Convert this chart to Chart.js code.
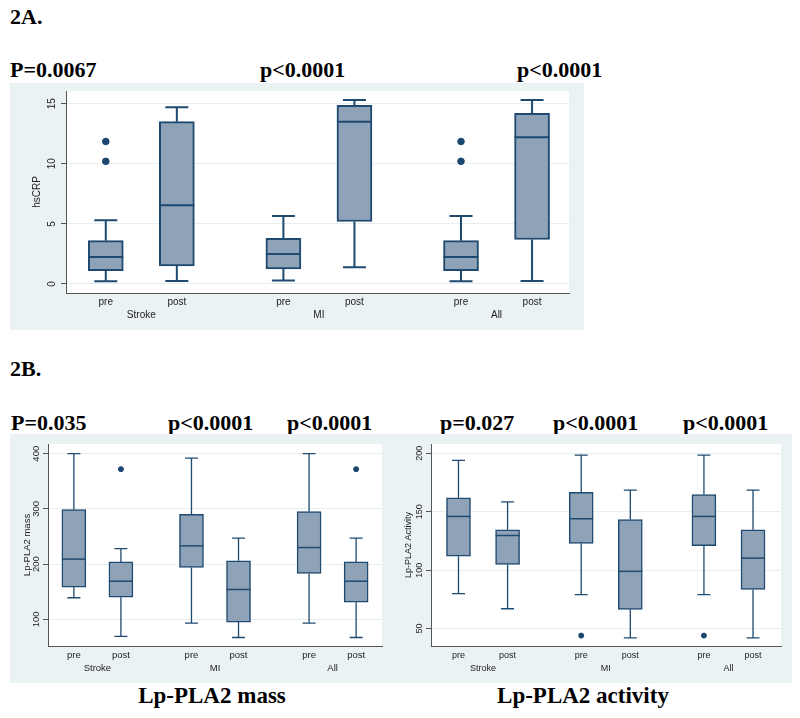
<!DOCTYPE html>
<html>
<head>
<meta charset="utf-8">
<script src="https://cdn.jsdelivr.net/npm/chart.js@4.4.1/dist/chart.umd.min.js"></script>
<style>
  body { margin: 0; background: #fff; width: 800px; height: 718px; position: relative; overflow: hidden; font-family: "Liberation Serif", "Times New Roman", serif; }
  .t { position: absolute; font-weight: bold; font-size: 22px; line-height: 22px; white-space: nowrap; color: #000; }
  .ttl { position: absolute; font-weight: bold; font-size: 23px; line-height: 23px; width: 300px; text-align: center; color: #000; }
  .panel { position: absolute; background: #eaf2f3; }
  .panel canvas { position: absolute; left: 0; top: 0; }
</style>
</head>
<body>
<div class="t" style="left:10px; top:6px;">2A.</div>
<div class="t" style="left:10px; top:59px;">P=0.0067</div>
<div class="t" style="left:260px; top:59px;">p&lt;0.0001</div>
<div class="t" style="left:517px; top:59px;">p&lt;0.0001</div>
<div class="panel" style="left:10px; top:83px; width:574px; height:247px;"><canvas id="crp-chart"></canvas></div>

<div class="t" style="left:10px; top:358px;">2B.</div>
<div class="t" style="left:11px; top:412px;">P=0.035</div>
<div class="t" style="left:168px; top:412px;">p&lt;0.0001</div>
<div class="t" style="left:287px; top:412px;">p&lt;0.0001</div>
<div class="t" style="left:440px; top:412px;">p=0.027</div>
<div class="t" style="left:553px; top:412px;">p&lt;0.0001</div>
<div class="t" style="left:683px; top:412px;">p&lt;0.0001</div>
<div class="panel" style="left:10px; top:434px; width:390px; height:249px;"><canvas id="mass-chart"></canvas></div>
<div class="panel" style="left:400px; top:434px; width:392px; height:249px;"><canvas id="activity-chart"></canvas></div>
<div class="ttl" style="left:62px; top:684px;">Lp-PLA2 mass</div>
<div class="ttl" style="left:433px; top:684px;">Lp-PLA2 activity</div>

<script>
// categories
var times = ['pre', 'post'];
var groups = ['Stroke', 'MI', 'All'];

// hsCRP (Stroke pre, Stroke post, MI pre, MI post, All pre, All post)
var crpLow = [0.22, 0.25, 0.3, 1.4, 0.22, 0.25];
var crpQ1 = [1.1, 1.5, 1.25, 5.2, 1.1, 3.7];
var crpMed = [2.25, 6.55, 2.5, 13.5, 2.25, 12.2];
var crpQ3 = [3.6, 13.5, 3.8, 14.85, 3.6, 14.2];
var crpHigh = [5.3, 14.7, 5.65, 15.3, 5.65, 15.3];
var crpOut = [[11.85, 10.2], [], [], [], [11.85, 10.2], []];
var crpTicks = [0, 5, 10, 15];

// Lp-PLA2 mass
var massLow = [139, 69, 93, 67, 93, 67];
var massQ1 = [158, 140, 194, 95, 183, 131];
var massMed = [209, 169, 233, 154, 230, 169];
var massQ3 = [299, 204, 290, 206, 295, 204];
var massHigh = [400, 228, 392, 247, 400, 247];
var massOut = [[], [372], [], [], [], [372]];
var massTicks = [100, 200, 300, 400];

// Lp-PLA2 activity
var actLow = [80, 67, 79, 42, 79, 42];
var actQ1 = [112, 105, 123, 66.5, 121, 83.5];
var actMed = [146, 129.7, 144, 99, 146, 110.3];
var actQ3 = [162, 134.5, 166.6, 143.4, 164.8, 134.5];
var actHigh = [194, 158.5, 198.5, 168.5, 198.5, 168.5];
var actOut = [[], [], [44], [], [44], []];
var actTicks = [50, 100, 150, 200];

// x position of box i: pairs of boxes with a wider gap between groups
function pos(i) {
  return Math.floor(i / 2) * 2.5 + (i % 2) + 1;
}

function boxChart(id, low, q1, med, q3, high, out, yTicks, yTitle, o) {
  var xTicks = [];
  for (var g = 0; g < groups.length; g++) {
    xTicks.push({ value: pos(2 * g), label: times[0] });
    xTicks.push({ value: pos(2 * g) + 0.5, label: ['', groups[g]] });
    xTicks.push({ value: pos(2 * g + 1), label: times[1] });
  }

  var boxes = q1.map(function(v, i) { return { x: pos(i), y: [q1[i], q3[i]] }; });
  var dots = [];
  out.forEach(function(list, i) {
    list.forEach(function(v) { dots.push({ x: pos(i), y: v }); });
  });

  var extras = {
    id: 'boxExtras',
    beforeDraw: function(chart) {
      var a = chart.chartArea, c = chart.ctx;
      c.save();
      c.fillStyle = '#ffffff';
      c.fillRect(a.left, a.top, a.right - a.left, a.bottom - a.top);
      c.restore();
    },
    afterDatasetsDraw: function(chart) {
      var xs = chart.scales.x, ys = chart.scales.y, c = chart.ctx, a = chart.chartArea;
      c.save();
      c.strokeStyle = '#1f4a70';
      for (var i = 0; i < q1.length; i++) {
        var x = xs.getPixelForValue(pos(i));
        var yl = ys.getPixelForValue(low[i]), y1 = ys.getPixelForValue(q1[i]);
        var y3 = ys.getPixelForValue(q3[i]), yh = ys.getPixelForValue(high[i]);
        var ym = ys.getPixelForValue(med[i]);
        c.lineWidth = o.whisker;
        c.beginPath();
        c.moveTo(x, y1); c.lineTo(x, yl);
        c.moveTo(x - o.cap, yl); c.lineTo(x + o.cap, yl);
        c.moveTo(x, y3); c.lineTo(x, yh);
        c.moveTo(x - o.cap, yh); c.lineTo(x + o.cap, yh);
        c.stroke();
        c.lineWidth = o.median;
        c.beginPath();
        c.moveTo(x - o.box / 2, ym); c.lineTo(x + o.box / 2, ym);
        c.stroke();
      }
      // rotated y tick labels and axis title, like Stata
      c.fillStyle = '#222';
      c.font = o.font + 'px "Liberation Sans", Arial, sans-serif';
      c.textAlign = 'center';
      c.textBaseline = 'middle';
      yTicks.forEach(function(v) {
        c.save();
        c.translate(a.left - o.tickOff, ys.getPixelForValue(v));
        c.rotate(-Math.PI / 2);
        c.fillText(String(v), 0, 0);
        c.restore();
      });
      c.save();
      c.translate(a.left - o.titleOff, (a.top + a.bottom) / 2);
      c.rotate(-Math.PI / 2);
      c.fillText(yTitle, 0, 0);
      c.restore();
      c.restore();
    }
  };

  var ctx = document.getElementById(id).getContext('2d');
  return new Chart(ctx, {
    type: 'bar',
    data: {
      datasets: [{
        type: 'bar',
        data: boxes,
        backgroundColor: '#8ea2b8',
        borderColor: '#1f4a70',
        borderWidth: o.border,
        borderSkipped: false,
        barThickness: o.box
      }, {
        type: 'scatter',
        data: dots,
        backgroundColor: '#1a476f',
        borderColor: '#1a476f',
        pointRadius: o.dot,
        pointHoverRadius: o.dot
      }]
    },
    options: {
      responsive: true,
      maintainAspectRatio: false,
      animation: false,
      devicePixelRatio: 1,
      layout: { padding: { top: o.padTop, right: o.padRight, left: 0, bottom: 0 } },
      plugins: { legend: { display: false }, tooltip: { enabled: false } },
      scales: {
        x: {
          type: 'linear',
          offset: false,
          min: o.xMin,
          max: o.xMax,
          afterBuildTicks: function(s) {
            s.ticks = xTicks.map(function(t) { return { value: t.value }; });
          },
          afterFit: function(s) { s.height = o.xHeight; },
          grid: { color: 'rgba(0,0,0,0)', drawTicks: false, offset: false },
          border: { color: '#555', width: 1 },
          ticks: {
            autoSkip: false,
            maxRotation: 0,
            padding: 3,
            color: '#222',
            font: { family: '"Liberation Sans", Arial, sans-serif', size: o.font, lineHeight: 13 / o.font },
            callback: function(val) {
              for (var k = 0; k < xTicks.length; k++) {
                if (Math.abs(xTicks[k].value - val) < 1e-6) return xTicks[k].label;
              }
              return '';
            }
          }
        },
        y: {
          min: o.yMin,
          max: o.yMax,
          afterBuildTicks: function(s) {
            s.ticks = yTicks.map(function(v) { return { value: v }; });
          },
          afterFit: function(s) { s.width = o.yWidth; },
          grid: { color: '#e6eef0', lineWidth: 1, drawTicks: true, tickLength: 5, tickColor: '#555', tickWidth: 1 },
          border: { color: '#555', width: 1 },
          ticks: { display: false }
        }
      }
    },
    plugins: [extras]
  });
}

boxChart('crp-chart', crpLow, crpQ1, crpMed, crpQ3, crpHigh, crpOut, crpTicks, 'hsCRP', {
  xMin: 0.44, xMax: 7.52, yMin: -0.75, yMax: 16.05,
  yWidth: 56, xHeight: 37, padTop: 8, padRight: 15,
  box: 35, cap: 11.5, border: 2, whisker: 2, median: 2, dot: 3.3,
  tickOff: 14, titleOff: 29, font: 10
});

boxChart('mass-chart', massLow, massQ1, massMed, massQ3, massHigh, massOut, massTicks, 'Lp-PLA2 mass', {
  xMin: 0.45, xMax: 7.55, yMin: 51.6, yMax: 417.6,
  yWidth: 38, xHeight: 37, padTop: 10, padRight: 18,
  box: 24, cap: 6.5, border: 1.5, whisker: 1.3, median: 1.5, dot: 2.5,
  tickOff: 12, titleOff: 21, font: 9.5
});

boxChart('activity-chart', actLow, actQ1, actMed, actQ3, actHigh, actOut, actTicks, 'Lp-PLA2 Activity', {
  xMin: 0.44, xMax: 7.57, yMin: 35.1, yMax: 208,
  yWidth: 31, xHeight: 37, padTop: 10, padRight: 11,
  box: 24, cap: 6.5, border: 1.5, whisker: 1.3, median: 1.5, dot: 2.5,
  tickOff: 11, titleOff: 22, font: 9
});
</script>
</body>
</html>
